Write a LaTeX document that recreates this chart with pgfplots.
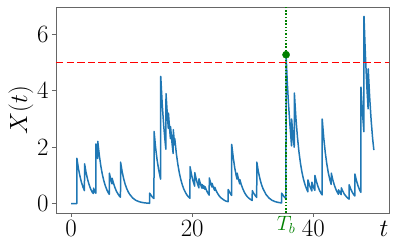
\documentclass[border=0pt]{standalone}
\usepackage{pgfplots}
\pgfplotsset{compat=1.18}
\definecolor{mplblue}{HTML}{1F77B4}
\definecolor{mplgreen}{HTML}{008000}
\definecolor{framegray}{HTML}{666666}
\begin{document}
\begin{tikzpicture}
\path[use as bounding box] (-56pt,-38pt) rectangle (341pt,213pt);
\begin{axis}[
  at={(0,0)}, anchor=south west, scale only axis,
  width=333pt, height=206pt, clip=false,
  xmin=-2.5, xmax=52.5, ymin=-0.332, ymax=6.972,
  xtick={0,20,40}, ytick={0,2,4,6},
  tick pos=left, tick align=outside, major tick length=4pt,
  axis line style={framegray, line width=0.8pt},
  tick style={framegray, line width=0.8pt},
  ticklabel style={font=\fontsize{23}{23}\selectfont},
  extra x ticks={35.5}, extra x tick labels={$T_b$},
  extra x tick style={major tick length=0pt, tick label style={text=mplgreen, font=\fontsize{20}{20}\selectfont}},
]
\addplot[mplblue, line width=1.5pt, line join=round] coordinates {
(0,0) (0.93,0) (0.95,1.61) (1.2,1.25) (1.45,0.98) (1.7,0.76) (1.95,0.59) (2.2,0.46)
(2.22,1.41) (2.47,1.10) (2.72,0.86) (2.97,0.67) (3.22,0.52) (3.5,0.40) (3.68,0.36)
(3.7,0.55) (3.98,0.40) (4.08,0.37)
(4.1,2.12) (4.38,1.60) (4.4,2.21) (4.65,1.72) (4.9,1.34) (5.15,1.04) (5.4,0.81) (5.65,0.63)
(5.9,0.49) (6.15,0.38) (6.3,0.33)
(6.32,1.08) (6.57,0.84) (6.75,0.70) (6.77,0.90) (7.0,0.72) (7.25,0.56) (7.5,0.43) (7.75,0.34)
(8.0,0.26) (8.15,0.23)
(8.17,1.47) (8.42,1.14) (8.67,0.89) (8.92,0.69) (9.17,0.54) (9.42,0.42) (9.67,0.33)
(10.17,0.20) (10.67,0.12) (11.17,0.073) (11.67,0.044) (12.17,0.027) (12.67,0.016) (12.95,0.012)
(12.97,0.37) (13.22,0.29) (13.47,0.22) (13.68,0.18)
(13.7,2.56) (13.95,1.99) (14.2,1.55) (14.45,1.21) (14.7,0.94) (14.78,0.87)
(14.8,4.51) (15.05,3.51) (15.3,2.74) (15.55,2.13) (15.65,1.93)
(15.67,3.90) (15.92,3.04) (16.05,2.67) (16.07,3.21) (16.32,2.50) (16.4,2.31)
(16.42,2.73) (16.67,2.13) (16.85,1.78) (16.87,2.62) (17.1,2.08) (17.12,2.30)
(17.37,1.79) (17.62,1.40) (17.87,1.09) (18.12,0.85) (18.37,0.66) (18.62,0.51) (18.87,0.40)
(19.12,0.31) (19.37,0.24) (19.62,0.19)
(19.64,1.31) (19.9,1.01) (20.15,0.79) (20.4,0.62) (20.42,1.10) (20.67,0.86) (20.9,0.68)
(21.1,0.56) (21.12,0.88) (21.37,0.69) (21.6,0.55) (21.62,0.68) (21.85,0.54) (21.87,0.64)
(22.1,0.51) (22.12,0.60) (22.4,0.45) (22.6,0.37) (22.8,0.30)
(22.82,0.91) (23.07,0.71) (23.25,0.59) (23.27,0.72) (23.52,0.56) (23.7,0.47) (23.72,0.58)
(23.97,0.45) (24.22,0.35) (24.47,0.27) (24.72,0.21) (24.97,0.17) (25.22,0.13) (25.47,0.10)
(25.72,0.08) (25.93,0.07)
(25.95,0.50) (26.2,0.39) (26.5,0.29)
(26.52,2.10) (26.77,1.64) (27.02,1.27) (27.27,0.99) (27.4,0.87)
(27.42,1.08) (27.67,0.84) (27.85,0.70) (27.87,0.85) (28.12,0.66) (28.37,0.52) (28.62,0.40)
(28.87,0.31) (29.12,0.24) (29.37,0.19) (29.62,0.15) (29.9,0.11)
(29.92,0.46) (30.17,0.36) (30.42,0.28) (30.65,0.22)
(30.67,1.47) (30.92,1.14) (31.17,0.89) (31.42,0.69) (31.67,0.54) (32.17,0.33) (32.67,0.20)
(33.17,0.12) (33.67,0.073) (34.17,0.044) (34.67,0.027) (34.75,0.025)
(34.77,0.37) (35.02,0.29) (35.27,0.22) (35.48,0.18)
(35.5,5.28) (35.7,4.30) (35.9,3.55) (36.1,2.90) (36.35,2.20) (36.4,2.05)
(36.42,3.00) (36.6,2.50) (36.85,2.00)
(36.87,3.92) (37.12,3.05) (37.37,2.38) (37.62,1.85) (37.87,1.44) (38.12,1.12) (38.37,0.87)
(38.62,0.68) (38.87,0.53) (39.1,0.42)
(39.12,0.84) (39.37,0.65) (39.75,0.45) (39.77,0.76) (40.02,0.59) (40.25,0.47)
(40.27,1.00) (40.52,0.78) (40.77,0.61) (41.02,0.47) (41.27,0.37) (41.45,0.31)
(41.47,3.00) (41.72,2.34) (41.97,1.82) (42.22,1.42) (42.47,1.10) (42.72,0.86) (42.95,0.68)
(42.97,1.08) (43.22,0.84) (43.47,0.66) (43.72,0.51) (43.97,0.40) (44.15,0.33)
(44.17,0.49) (44.4,0.39) (44.6,0.32) (44.62,0.56) (44.87,0.44) (45.12,0.34) (45.37,0.27)
(45.62,0.21) (45.9,0.16)
(45.92,0.67) (46.17,0.52) (46.42,0.41) (46.67,0.32) (46.85,0.27)
(46.87,1.05) (47.12,0.82) (47.37,0.64) (47.62,0.50) (47.85,0.40)
(47.87,4.13) (48.1,3.28) (48.35,2.55)
(48.37,6.64) (48.6,5.28) (48.85,4.11) (49.05,3.36)
(49.07,4.78) (49.3,3.80) (49.55,2.96) (49.8,2.30) (50.0,1.90)
};
\addplot[red, line width=1.5pt, dash pattern=on 7.4pt off 3.2pt] coordinates {(-2.5,5) (52.5,5)};
\addplot[mplgreen, line width=1.5pt, dash pattern=on 1.5pt off 1.8pt] coordinates {(35.5,-0.332) (35.5,6.972)};
\addplot[only marks, mark=*, mark size=3.6pt, mplgreen] coordinates {(35.5,5.28)};
\node[rotate=90, anchor=center, font=\fontsize{32}{32}\selectfont] at ([xshift=-35pt]rel axis cs:0,0.5) {$X(t)$};
\node[anchor=base, font=\fontsize{24}{24}\selectfont] at ([xshift=-5pt, yshift=-24pt]rel axis cs:1,0) {$t$};
\end{axis}
\end{tikzpicture}
\end{document}
